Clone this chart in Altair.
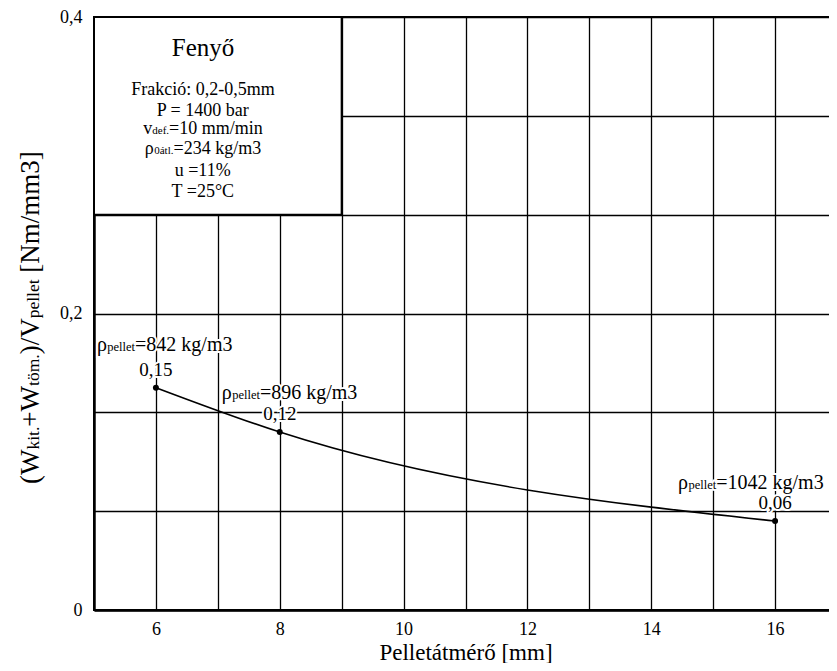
import altair as alt
import pandas as pd

# ---------------- data ----------------
DIAMETER = [6, 8, 16]                 # Pelletátmérő [mm]
ENERGY = [0.15, 0.12, 0.06]           # (Wkit.+Wtöm.)/Vpellet [Nm/mm3]
VALUE_LABELS = ["0,15", "0,12", "0,06"]
DENSITY = [842, 896, 1042]            # ρpellet [kg/m3]

X_DOMAIN = [5, 17]
Y_DOMAIN = [0, 0.4]
X_GRID = list(range(5, 18))
Y_GRID = [round(i * 0.4 / 6, 6) for i in range(7)]

LEGEND_TITLE = "Fenyő"
LEGEND_LINES = [
    [("Frakció: 0,2-0,5mm", "n")],
    [("P = 1400 bar", "n")],
    [("v", "n"), ("def.", "s"), ("=10 mm/min", "n")],
    [("ρ", "n"), ("0átl.", "s"), ("=234 kg/m3", "n")],
    [("u =11%", "n")],
    [("T =25°C", "n")],
]
BOX_X = [5, 9]
BOX_Y = [Y_GRID[4], Y_GRID[6]]

X_TITLE = "Pelletátmérő [mm]"
Y_TITLE = [("(W", "n"), ("kit.", "s"), ("+W", "n"), ("töm.", "s"),
           (")/V", "n"), ("pellet", "s"), (" [Nm/mm3]", "n")]

# ---------------- layout ----------------
FONT = "'Liberation Serif', 'Times New Roman', serif"
W_PLOT, H_PLOT = 743, 593
# right padding is negative so that the svg stays inside the 837px window
PAD = {"left": 86, "top": 9, "right": -8, "bottom": 53}

TICK_FS = 18
XTITLE_FS = 23
YT_MAIN, YT_SUB = 27, 17.5
LEG_TITLE_FS = 25
LEG_MAIN, LEG_SUB = 18, 11
ANN_MAIN, ANN_SUB = 20, 12.5
VAL_FS = 19

# Times / Liberation Serif advance widths (per 1000 em)
_W = {' ': 250, '(': 333, ')': 333, '+': 564, '.': 250, ',': 250, '/': 278, '=': 564,
      '-': 333, '%': 833, '°': 400, ':': 278, '[': 333, ']': 333, 'a': 444, 'á': 444,
      'b': 500, 'c': 444, 'd': 500, 'e': 444, 'é': 444, 'f': 333, 'g': 500, 'i': 278,
      'k': 500, 'l': 278, 'm': 778, 'n': 500, 'o': 500, 'ó': 500, 'ö': 500, 'ő': 500,
      'p': 500, 'r': 333, 't': 278, 'u': 500, 'v': 500, 'y': 500, 'C': 667, 'F': 556,
      'N': 722, 'P': 556, 'T': 611, 'V': 722, 'W': 944, 'ρ': 520}


def tw(s, fs):
    return sum(_W.get(ch, 500) for ch in s) * fs / 1000.0


def seg_size(kind, main, sub):
    return main if kind == "n" else sub


x_scale = alt.Scale(domain=X_DOMAIN, nice=False, zero=False)
y_scale = alt.Scale(domain=Y_DOMAIN, nice=False, zero=False)

x_axis = alt.Axis(values=X_GRID, grid=True, gridColor="black", gridWidth=1.3,
                  ticks=False, tickSize=0, domain=True, domainColor="black", domainWidth=2.4,
                  labelExpr="datum.value % 2 == 0 ? format(datum.value, 'd') : ''",
                  labelFont=FONT, labelFontSize=TICK_FS, labelColor="black",
                  labelPadding=10, labelFlush=False, labelOverlap=False,
                  title=X_TITLE, titleFont=FONT, titleFontSize=XTITLE_FS,
                  titleFontWeight="normal", titleColor="black",
                  titleBaseline="alphabetic", titleY=49)
y_axis = alt.Axis(values=Y_GRID, grid=True, gridColor="black", gridWidth=1.3,
                  ticks=False, tickSize=0, domain=True, domainColor="black", domainWidth=2.4,
                  labelExpr="abs(datum.value*5 - round(datum.value*5)) < 0.001 ? "
                            "replace(format(datum.value, '.1~f'), '.', ',') : ''",
                  labelFont=FONT, labelFontSize=TICK_FS, labelColor="black",
                  labelPadding=12, labelFlush=False, labelOverlap=False, title=None)

pts = pd.DataFrame({"d": DIAMETER, "e": ENERGY, "lab": VALUE_LABELS})

base = alt.Chart(pts)
curve = base.mark_line(interpolate="monotone", color="black", strokeWidth=1.6).encode(
    x=alt.X("d:Q", scale=x_scale, axis=x_axis),
    y=alt.Y("e:Q", scale=y_scale, axis=y_axis),
)
dots = base.mark_circle(size=36, color="black", opacity=1).encode(x="d:Q", y="e:Q")

box_df = pd.DataFrame({"x1": [BOX_X[0]], "x2": [BOX_X[1]], "y1": [BOX_Y[0]], "y2": [BOX_Y[1]]})
box = alt.Chart(box_df).mark_rect(fill="white", stroke="black", strokeWidth=2).encode(
    x="x1:Q", x2="x2:Q", y="y1:Q", y2="y2:Q")

layers = [curve, box]


def pix_text(txt, px, py, fs, align="left", angle=None):
    kw = dict(font=FONT, fontSize=fs, color="black", align=align, baseline="alphabetic")
    if angle is not None:
        kw["angle"] = angle
    return alt.Chart(pd.DataFrame({"t": [txt]})).mark_text(**kw).encode(
        x=alt.value(px), y=alt.value(py), text="t:N")


# legend texts (plot pixel coordinates)
LEG_CX = 109
layers.append(pix_text(LEGEND_TITLE, LEG_CX, 39, LEG_TITLE_FS, align="center"))
LEG_BASELINES = [78, 99, 117, 137, 159, 180]
for line, by in zip(LEGEND_LINES, LEG_BASELINES):
    total = sum(tw(s, seg_size(k, LEG_MAIN, LEG_SUB)) for s, k in line)
    cx = LEG_CX - total / 2
    for s, k in line:
        fs = seg_size(k, LEG_MAIN, LEG_SUB)
        layers.append(pix_text(s, cx, by, fs))
        cx += tw(s, fs)

# y-axis title (rotated, built from segments, running upwards)
YT_X = -55
YT_START = 467
cy = YT_START
for s, k in Y_TITLE:
    fs = seg_size(k, YT_MAIN, YT_SUB)
    lead = len(s) - len(s.lstrip(" "))
    cy -= tw(" " * lead, fs)
    s2 = s.lstrip(" ")
    layers.append(pix_text(s2, YT_X, cy, fs, angle=270))
    cy -= tw(s2, fs)

layers.append(dots)

# point annotations
ANN_DX = [-59, -58, -97]
ANN_DY = [-37, -33, -32]
VAL_DY = -12
for i in range(len(DIAMETER)):
    one = pd.DataFrame({"d": [DIAMETER[i]], "e": [ENERGY[i]]})
    segs = [("ρ", "n"), ("pellet", "s"), (f"={DENSITY[i]} kg/m3", "n")]
    specs = []
    dx = ANN_DX[i]
    for s, k in segs:
        fs = seg_size(k, ANN_MAIN, ANN_SUB)
        specs.append((s, fs, dx, ANN_DY[i], "left"))
        dx += tw(s, fs)
    specs.append((VALUE_LABELS[i], VAL_FS, 0, VAL_DY, "center"))
    for halo in (True, False):
        for s, fs, dxx, dyy, al in specs:
            kw = dict(font=FONT, fontSize=fs, align=al, baseline="alphabetic", dx=dxx, dy=dyy)
            if halo:
                kw.update(color="white", stroke="white", strokeWidth=4)
            else:
                kw.update(color="black")
            layers.append(alt.Chart(one).transform_calculate(t=f"'{s}'").mark_text(**kw).encode(
                x="d:Q", y="e:Q", text="t:N"))

chart = alt.layer(*layers).properties(
    width=W_PLOT, height=H_PLOT, padding=PAD, autosize="none", background="white"
).configure_view(stroke="black", strokeWidth=2)

chart.save("out.html", embed_options={"renderer": "svg", "actions": False})
